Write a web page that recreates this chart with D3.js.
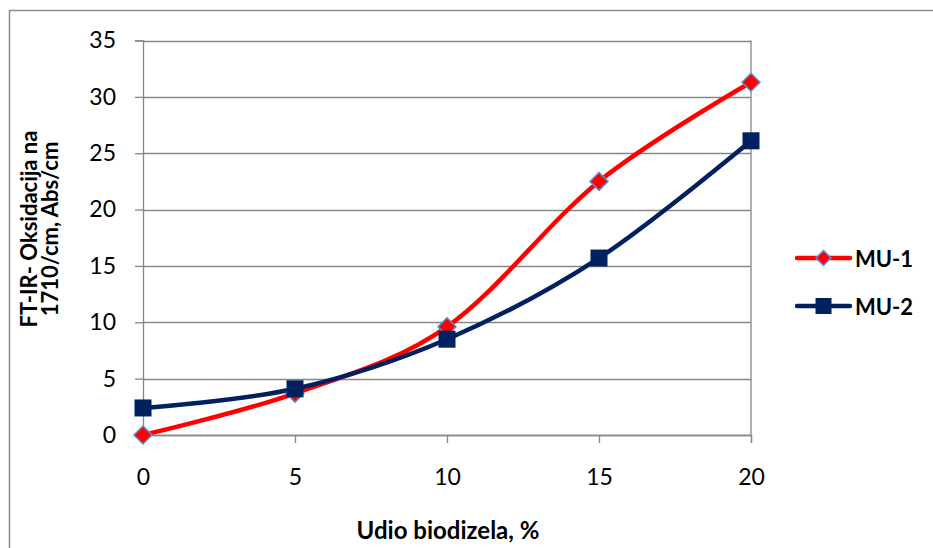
<!DOCTYPE html>
<html>
<head>
<meta charset="utf-8">
<script src="https://cdn.jsdelivr.net/npm/d3@7"></script>
<style>
html,body{margin:0;padding:0;background:#fff;}
svg{display:block;font-family:Lato,"Open Sans",sans-serif;}
</style>
</head>
<body>
<svg id="chart" width="933" height="548"></svg>
<script>
const xValues = [0, 5, 10, 15, 20];
const mu1 = [0, 3.7, 9.6, 22.5, 31.3];
const mu2 = [2.4, 4.1, 8.5, 15.7, 26.1];
const yTicks = [0, 5, 10, 15, 20, 25, 30, 35];
const xTicks = [0, 5, 10, 15, 20];
const seriesNames = ["MU-1", "MU-2"];

const svg = d3.select("#chart");
const pLeft = 143, pRight = 751, pTop = 40.5, pBottom = 435;

// outer frame
svg.append("rect").attr("x", 9.5).attr("y", 10.5).attr("width", 940).attr("height", 560)
  .attr("fill", "none").attr("stroke", "#8c8c8c").attr("stroke-width", 1.5);

const x = d3.scaleLinear().domain([0, 20]).range([pLeft, pRight]);
const y = d3.scaleLinear().domain([0, 35]).range([pBottom, pTop]);

// gridlines
svg.append("g").selectAll("line").data(yTicks).join("line")
  .attr("x1", pLeft).attr("x2", pRight)
  .attr("y1", d => Math.round(y(d)) + 0.5).attr("y2", d => Math.round(y(d)) + 0.5)
  .attr("stroke", "#878787").attr("stroke-width", 1.3);

// right border of plot
svg.append("line").attr("x1", pRight).attr("x2", pRight).attr("y1", pTop).attr("y2", pBottom)
  .attr("stroke", "#878787").attr("stroke-width", 1.3);

// y axis
const yAxis = svg.append("g").attr("transform", `translate(${pLeft},0)`)
  .call(d3.axisLeft(y).tickValues(yTicks).tickSize(8).tickPadding(19));
yAxis.attr("font-size", 23).attr("font-family", "Lato, sans-serif");
yAxis.select(".domain").attr("stroke", "#878787").attr("stroke-width", 1.3);
yAxis.selectAll(".tick line").attr("stroke", "#878787").attr("stroke-width", 1.3);
yAxis.selectAll("text").attr("fill", "#000");

// x axis
const xAxis = svg.append("g").attr("transform", `translate(0,${pBottom})`)
  .call(d3.axisBottom(x).tickValues(xTicks).tickSize(8).tickPadding(26));
xAxis.attr("font-size", 23).attr("font-family", "Lato, sans-serif");
xAxis.select(".domain").attr("stroke", "#878787").attr("stroke-width", 1.3);
xAxis.selectAll(".tick line").attr("stroke", "#878787").attr("stroke-width", 1.3);
xAxis.selectAll("text").attr("fill", "#000");

// axis titles
svg.append("text").attr("x", 448).attr("y", 539).attr("text-anchor", "middle")
  .attr("font-size", 24).attr("font-weight", "bold").text("Udio biodizela, %");
const yt = svg.append("text").attr("transform", "translate(37,229) rotate(-90)")
  .attr("text-anchor", "middle").attr("font-size", 22).attr("font-weight", "bold");
yt.append("tspan").attr("x", 0).attr("dy", 0).text("FT-IR- Oksidacija na");
yt.append("tspan").attr("x", 0).attr("dy", 21).text("1710/cm, Abs/cm");

const line = d3.line().x((d, i) => x(xValues[i])).y(d => y(d)).curve(d3.curveCatmullRom.alpha(0));

const red = "#ff0000", navy = "#002060", blueEdge = "#5b8fd0";

svg.append("path").datum(mu1).attr("d", line).attr("fill", "none")
  .attr("stroke", red).attr("stroke-width", 4.5).attr("stroke-linejoin", "round").attr("stroke-linecap", "round");
svg.append("path").datum(mu2).attr("d", line).attr("fill", "none")
  .attr("stroke", navy).attr("stroke-width", 4.5).attr("stroke-linejoin", "round").attr("stroke-linecap", "round");

const diamond = s => `M0,${-s}L${s},0L0,${s}L${-s},0Z`;
svg.append("g").selectAll("path").data(mu1).join("path")
  .attr("transform", (d, i) => `translate(${x(xValues[i])},${y(d)})`)
  .attr("d", diamond(9)).attr("fill", red).attr("stroke", blueEdge).attr("stroke-width", 1.5);
svg.append("g").selectAll("rect").data(mu2).join("rect")
  .attr("x", (d, i) => x(xValues[i]) - 8.5).attr("y", d => y(d) - 8.5)
  .attr("width", 17).attr("height", 17).attr("fill", navy);

// legend
const legY = [258, 306];
const lg = svg.append("g");
lg.selectAll("line").data(seriesNames).join("line")
  .attr("x1", 797).attr("x2", 850).attr("y1", (d, i) => legY[i]).attr("y2", (d, i) => legY[i])
  .attr("stroke", (d, i) => i === 0 ? red : navy).attr("stroke-width", 4.5).attr("stroke-linecap", "round");
lg.append("path").attr("transform", `translate(823.5,${legY[0]})`).attr("d", diamond(7.5))
  .attr("fill", red).attr("stroke", blueEdge).attr("stroke-width", 1.5);
lg.append("rect").attr("x", 823.5 - 8).attr("y", legY[1] - 8).attr("width", 16).attr("height", 16).attr("fill", navy);
lg.selectAll("text").data(seriesNames).join("text")
  .attr("x", 855).attr("y", (d, i) => legY[i] + 9)
  .attr("font-size", 22).attr("font-weight", "bold").text(d => d);
</script>
</body>
</html>
